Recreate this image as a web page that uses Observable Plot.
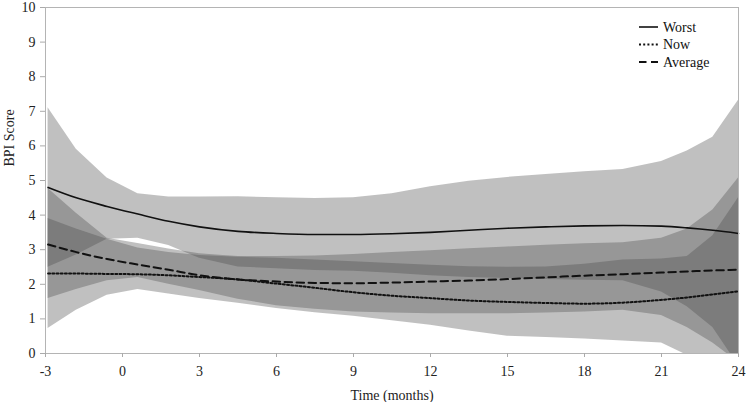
<!DOCTYPE html>
<html>
<head>
<meta charset="utf-8">
<script src="https://cdn.jsdelivr.net/npm/d3@7"></script>
<script src="https://cdn.jsdelivr.net/npm/@observablehq/plot@0.6"></script>
<style>
  body { margin: 0; background: #fff; }
  #chart { position: relative; width: 746px; height: 402px; }
  #legend { position: absolute; left: 0; top: 0; pointer-events: none; }
</style>
</head>
<body>
<div id="chart"></div>
<script>
// ---- data ----
const months = [-2.9, -1.8, -0.6, 0.6, 1.8, 3, 4.5, 6, 7.5, 9, 10.5, 12, 13.5, 15, 16.5, 18, 19.5, 21, 22, 23, 24];

const worstMean = [4.8, 4.5, 4.25, 4.03, 3.82, 3.66, 3.53, 3.47, 3.44, 3.44, 3.46, 3.5, 3.56, 3.62, 3.66, 3.69, 3.7, 3.68, 3.63, 3.56, 3.47];
const worstHi   = [7.1, 5.9, 5.07, 4.62, 4.52, 4.52, 4.53, 4.5, 4.48, 4.5, 4.62, 4.82, 4.98, 5.09, 5.17, 5.25, 5.32, 5.55, 5.85, 6.25, 7.32];
const worstLo   = [2.49, 2.85, 3.3, 3.33, 3.12, 2.75, 2.5, 2.45, 2.4, 2.38, 2.32, 2.25, 2.2, 2.17, 2.14, 2.12, 2.1, 1.78, 1.35, 0.75, -0.35];

const nowMean = [2.31, 2.31, 2.3, 2.29, 2.26, 2.21, 2.14, 2.02, 1.9, 1.77, 1.67, 1.6, 1.53, 1.49, 1.46, 1.44, 1.47, 1.55, 1.62, 1.71, 1.8];
const nowHi   = [3.9, 3.6, 3.3, 3.05, 2.92, 2.83, 2.78, 2.75, 2.7, 2.65, 2.6, 2.55, 2.51, 2.49, 2.5, 2.58, 2.7, 2.73, 2.8, 3.4, 4.5];
const nowLo   = [0.72, 1.25, 1.68, 1.85, 1.72, 1.59, 1.45, 1.3, 1.18, 1.08, 0.95, 0.82, 0.65, 0.5, 0.46, 0.42, 0.36, 0.3, -0.05, -0.6, -0.9];

const avgMean = [3.15, 2.93, 2.73, 2.57, 2.42, 2.26, 2.14, 2.08, 2.04, 2.03, 2.05, 2.08, 2.11, 2.15, 2.2, 2.25, 2.29, 2.34, 2.37, 2.4, 2.42];
const avgHi   = [4.77, 4.05, 3.33, 3.18, 3.02, 2.88, 2.8, 2.8, 2.82, 2.86, 2.92, 2.97, 3.03, 3.08, 3.13, 3.17, 3.2, 3.33, 3.6, 4.15, 5.07];
const avgLo   = [1.59, 1.85, 2.1, 2.2, 2.0, 1.82, 1.57, 1.38, 1.28, 1.2, 1.17, 1.15, 1.15, 1.15, 1.17, 1.2, 1.25, 1.1, 0.75, 0.3, -0.25];

const seriesNames = ["Worst", "Now", "Average"];
const xTicks = [-3, 0, 3, 6, 9, 12, 15, 18, 21, 24];
const yTicks = [0, 1, 2, 3, 4, 5, 6, 7, 8, 9, 10];
const xLabel = "Time (months)";
const yLabel = "BPI Score";

// ---- build table ----
const seriesData = {
  "Worst":   {mean: worstMean, lo: worstLo, hi: worstHi},
  "Now":     {mean: nowMean, lo: nowLo, hi: nowHi},
  "Average": {mean: avgMean, lo: avgLo, hi: avgHi}
};
const rows = seriesNames.flatMap(name =>
  months.map((m, i) => ({
    series: name, month: m,
    mean: seriesData[name].mean[i],
    lo: seriesData[name].lo[i],
    hi: seriesData[name].hi[i]
  }))
);

const dashes = {"Worst": null, "Now": "2,2.2", "Average": "7.5,4.5"};
const widths = {"Worst": 1.6, "Now": 2, "Average": 2};

const font = '"Liberation Serif", "Times New Roman", serif';

const chart = Plot.plot({
  width: 746,
  height: 402,
  marginLeft: 45,
  marginRight: 8,
  marginTop: 7,
  marginBottom: 49,
  style: {fontFamily: font, fontSize: "14px", background: "#fff", color: "#222"},
  x: {domain: [-3, 24]},
  y: {domain: [0, 10]},
  marks: [
    Plot.areaY(rows, {x: "month", y1: "lo", y2: "hi", z: "series", fill: "#4b4b4b", fillOpacity: 0.35, clip: true}),
    ...seriesNames.map(name =>
      Plot.line(rows.filter(d => d.series === name), {
        x: "month", y: "mean", stroke: "#111",
        strokeWidth: widths[name],
        strokeDasharray: dashes[name],
        curve: "monotone-x"
      })
    ),
    Plot.frame({stroke: "#b4b4b4"}),
    Plot.axisX({ticks: xTicks, tickSize: 4, tickPadding: 9, tickFormat: d => String(d),
      stroke: "#aaa", fill: "#222", label: xLabel, labelAnchor: "center", labelArrow: "none", labelOffset: 46}),
    Plot.axisY({ticks: yTicks, tickSize: 5, tickPadding: 5, tickFormat: d => String(d),
      stroke: "#aaa", fill: "#222", label: null}),
    Plot.text([yLabel], {frameAnchor: "left", dx: -36, dy: -14, rotate: -90, fill: "#222", fontSize: 14})
  ]
});
document.getElementById("chart").appendChild(chart);

// ---- legend (inside the plot, top right) ----
const lg = d3.select("#chart").append("svg")
  .attr("id", "legend").attr("width", 746).attr("height", 402);
const legendItems = seriesNames.map((name, i) => ({name, i}));
const g = lg.selectAll("g").data(legendItems).join("g")
  .attr("transform", d => `translate(639, ${27 + d.i * 17.5})`);
g.append("line")
  .attr("x1", 0).attr("x2", 19).attr("y1", 0).attr("y2", 0)
  .attr("stroke", "#111")
  .attr("stroke-width", d => widths[d.name])
  .attr("stroke-dasharray", d => dashes[d.name]);
g.append("text")
  .attr("x", 24).attr("y", 0).attr("dy", "0.34em")
  .attr("font-family", font).attr("font-size", 14).attr("fill", "#111")
  .text(d => d.name);
</script>
</body>
</html>
